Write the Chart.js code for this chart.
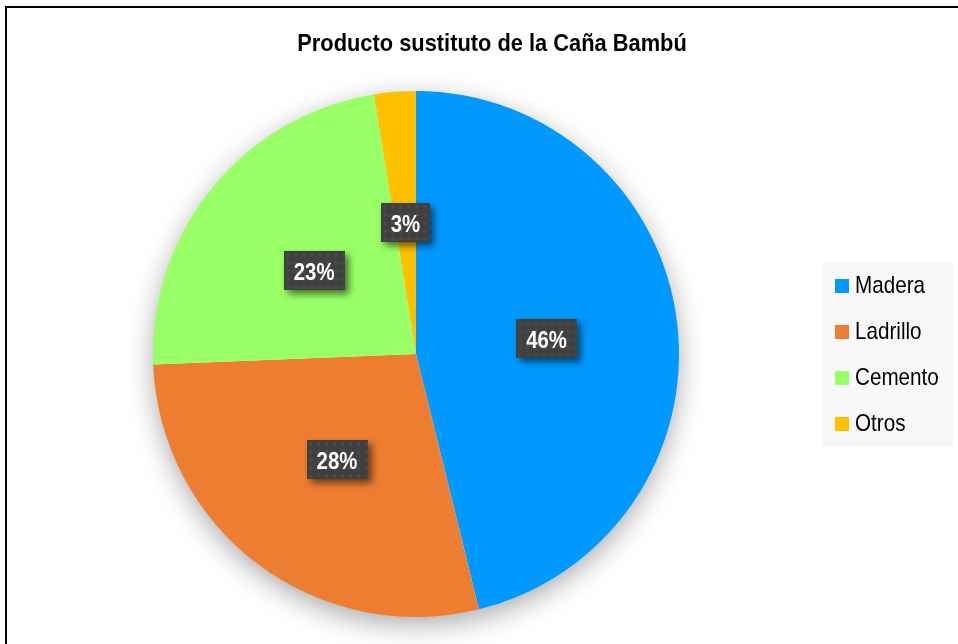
<!DOCTYPE html>
<html>
<head>
<meta charset="utf-8">
<script src="https://cdn.jsdelivr.net/npm/chart.js@4"></script>
<style>
  html, body { margin: 0; padding: 0; background: #fff; overflow: hidden; }
  #wrap { position: relative; width: 958px; height: 644px; }
  #frame { position: absolute; left: 5px; top: 6px; width: 1000px; height: 700px;
           border: 2px solid #000; pointer-events: none; }
</style>
</head>
<body>
<div id="wrap">
  <canvas id="pieChart" width="958" height="644"></canvas>
  <div id="frame"></div>
</div>
<script>
const categories = ['Madera', 'Ladrillo', 'Cemento', 'Otros'];
const counts = [18, 11, 9, 1];
const sliceColors = ['#0099FF', '#ED7D31', '#99FF66', '#FFC000'];
const chartTitle = 'Producto sustituto de la Caña Bambú';

const fontFam = "'Liberation Sans', Arial, sans-serif";
const total = counts.reduce((a, b) => a + b, 0);

// draw text squeezed horizontally (narrow look)
function narrowText(ctx, txt, x, y, sx, align) {
  ctx.save();
  const w = ctx.measureText(txt).width * sx;
  let left = x;
  if (align === 'center') left = x - w / 2;
  ctx.translate(left, y);
  ctx.scale(sx, 1);
  ctx.textAlign = 'left';
  ctx.fillText(txt, 0, 0);
  ctx.restore();
  return w;
}

// shadow under the pie, value boxes, title and legend
const decor = {
  id: 'decor',
  beforeDatasetsDraw(chart) {
    const arc = chart.getDatasetMeta(0).data[0];
    if (!arc) return;
    const ctx = chart.ctx;
    ctx.save();
    ctx.shadowColor = 'rgba(0,0,0,0.35)';
    ctx.shadowBlur = 28;
    ctx.shadowOffsetY = 8;
    ctx.fillStyle = '#fff';
    ctx.beginPath();
    ctx.arc(arc.x, arc.y, arc.outerRadius - 1, 0, Math.PI * 2);
    ctx.fill();
    ctx.restore();
  },
  afterDatasetsDraw(chart) {
    const ctx = chart.ctx;
    const meta = chart.getDatasetMeta(0);
    ctx.save();
    ctx.font = 'bold 24px ' + fontFam;
    ctx.textBaseline = 'alphabetic';
    meta.data.forEach((arc, i) => {
      const p = arc.getProps(['x', 'y', 'startAngle', 'endAngle', 'outerRadius'], true);
      const mid = (p.startAngle + p.endAngle) / 2;
      const cx = p.x + Math.cos(mid) * p.outerRadius * 0.5;
      const cy = p.y + Math.sin(mid) * p.outerRadius * 0.5;
      const txt = Math.round(counts[i] / total * 100) + '%';
      const w = Math.round(ctx.measureText(txt).width * 0.85 + 20);
      const h = 39;
      const bx = Math.round(cx - w / 2), by = Math.round(cy - h / 2);
      ctx.save();
      ctx.shadowColor = 'rgba(0,0,0,0.55)';
      ctx.shadowBlur = 7;
      ctx.shadowOffsetX = 4;
      ctx.shadowOffsetY = 4;
      ctx.fillStyle = '#404040';
      ctx.fillRect(bx, by, w, h);
      ctx.restore();
      // faint dotted texture
      ctx.fillStyle = 'rgba(255,255,255,0.05)';
      for (let yy = by + 4; yy < by + h; yy += 8) {
        for (let xx = bx + 4; xx < bx + w; xx += 8) {
          ctx.beginPath();
          ctx.arc(xx, yy, 2, 0, Math.PI * 2);
          ctx.fill();
        }
      }
      ctx.fillStyle = '#fff';
      narrowText(ctx, txt, cx, by + h / 2 + 9, 0.85, 'center');
    });
    ctx.restore();
  },
  afterDraw(chart) {
    const ctx = chart.ctx;
    ctx.save();
    ctx.textBaseline = 'alphabetic';
    // title
    ctx.fillStyle = '#000';
    ctx.font = 'bold 24px ' + fontFam;
    narrowText(ctx, chartTitle, 492, 51, 0.91, 'center');
    // legend
    ctx.fillStyle = '#F8F8F8';
    ctx.fillRect(822, 263, 131, 184);
    ctx.font = '24px ' + fontFam;
    categories.forEach((c, i) => {
      const y = 286 + i * 46;
      ctx.fillStyle = sliceColors[i];
      ctx.fillRect(835, y - 7, 14, 14);
      ctx.fillStyle = '#000';
      narrowText(ctx, c, 855, y + 7, 0.86, 'left');
    });
    ctx.restore();
  }
};

const ctx = document.getElementById('pieChart').getContext('2d');
const pieChart = new Chart(ctx, {
  type: 'pie',
  data: {
    labels: categories,
    datasets: [{
      data: counts,
      backgroundColor: sliceColors,
      borderWidth: 0
    }]
  },
  options: {
    responsive: false,
    animation: false,
    layout: { padding: { left: 153, right: 279, top: 91, bottom: 27 } },
    plugins: {
      legend: { display: false },
      title: { display: false },
      tooltip: { enabled: false }
    }
  },
  plugins: [decor]
});
</script>
</body>
</html>
